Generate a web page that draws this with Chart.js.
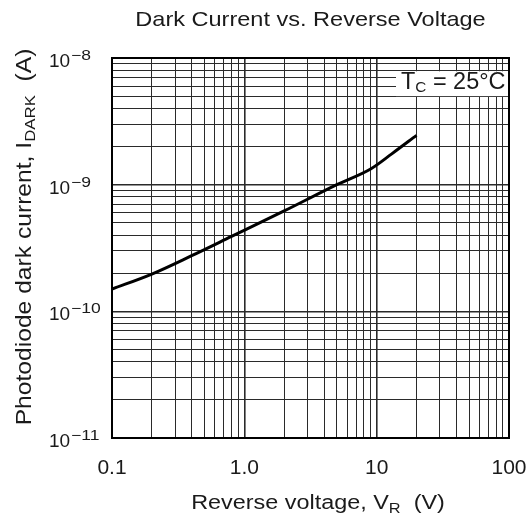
<!DOCTYPE html>
<html>
<head>
<meta charset="utf-8">
<script src="https://cdn.jsdelivr.net/npm/chart.js@4"></script>
<style>
  body { margin: 0; background: #fff; }
  #wrap { width: 531px; height: 524px; }
</style>
</head>
<body>
<div id="wrap"><canvas id="darkChart" width="531" height="524"></canvas></div>
<script>
const voltage = [0.1, 0.2, 0.4, 0.8, 2, 5, 9, 13, 20];                 // V_R (V)
const darkCurrent = [1.5e-10, 1.97e-10, 2.75e-10, 3.9e-10, 6.2e-10, 1.0e-9, 1.33e-9, 1.75e-9, 2.45e-9]; // A

const xDecades = [0.1, 1, 10, 100];
const xTickLabels = ["0.1", "1.0", "10", "100"];
const yDecades = [1e-11, 1e-10, 1e-9, 1e-8];
const yExponents = ["\u221211", "\u221210", "\u22129", "\u22128"];

const FONT = '"Liberation Sans", Arial, Helvetica, sans-serif';
const INK = "#1a1a1a";

// 1..9 grid lines in every decade
function logGrid(decades) {
  const out = [];
  for (let i = 0; i < decades.length - 1; i++) {
    for (let m = 1; m < 10; m++) out.push({ value: decades[i] * m });
  }
  out.push({ value: decades[decades.length - 1] });
  return out;
}

// draw [text, size, dy] pieces; scanned lettering is a bit wider, so stretch along x
function drawParts(ctx, parts, x, y, stretch, align) {
  let total = 0;
  parts.forEach(([t, s]) => {
    ctx.font = s + "px " + FONT;
    total += ctx.measureText(t).width * stretch;
  });
  let cx = align === "center" ? x - total / 2 : x;
  ctx.save();
  ctx.textAlign = "left";
  ctx.textBaseline = "alphabetic";
  parts.forEach(([t, s, d]) => {
    ctx.font = s + "px " + FONT;
    ctx.save();
    ctx.translate(cx, y + (d || 0));
    ctx.scale(stretch, 1);
    ctx.fillText(t, 0, 0);
    ctx.restore();
    cx += ctx.measureText(t).width * stretch;
  });
  ctx.restore();
}

// ——— text, box and frame ———
const decorPlugin = {
  id: "decor",
  beforeDatasetsDraw(chart) {
    const { ctx, chartArea: a, scales } = chart;
    const y1 = scales.y.getPixelForValue(8e-9) + 1;
    const y2 = scales.y.getPixelForValue(5e-9);
    ctx.save();
    ctx.fillStyle = "#fff";
    ctx.fillRect(a.right - 113, y1, 112, y2 - y1);
    ctx.fillStyle = INK;
    drawParts(ctx, [["T", 23, 0], ["C", 15, 3], [" = 25\u00b0C", 23, 0]], a.right - 108, y2 - 7, 1.02);
    ctx.restore();
  },
  afterDraw(chart) {
    const { ctx, chartArea: a, scales } = chart;
    ctx.save();
    ctx.fillStyle = INK;
    ctx.strokeStyle = "#000";

    // frame
    ctx.lineWidth = 2;
    ctx.strokeRect(a.left, a.top, a.right - a.left, a.bottom - a.top);

    // title
    drawParts(ctx, [["Dark Current vs. Reverse Voltage", 21, 0]], (a.left + a.right) / 2, 26, 1.12, "center");

    // x tick labels
    xDecades.forEach((v, i) => {
      drawParts(ctx, [[xTickLabels[i], 20, 0]], scales.x.getPixelForValue(v), 474, 1.05, "center");
    });

    // y tick labels: 10 with superscript exponent
    yDecades.forEach((v, i) => {
      const py = scales.y.getPixelForValue(v);
      drawParts(ctx, [["10", 19, 0]], 49, py + 9, 1.0);
      drawParts(ctx, [[yExponents[i], 14, 0]], 71, py + 2, 1.25);
    });

    // x axis title with subscript
    drawParts(ctx, [["Reverse voltage, V", 20, 0], ["R", 14, 4], ["  (V)", 20, 0]], 318, 509, 1.17, "center");

    // y axis title rotated
    ctx.translate(31, 237);
    ctx.rotate(-Math.PI / 2);
    drawParts(ctx, [["Photodiode dark current, I", 22, 0], ["DARK", 15, 4], ["  (A)", 22, 0]], 0, 0, 1.12, "center");
    ctx.restore();
  },
};

const gridStyle = {
  color: "#2a2a2a",
  lineWidth: (c) => (c.tick && Math.abs(Math.log10(c.tick.value) % 1) < 1e-6 ? 1.6 : 1),
  drawTicks: false,
};

new Chart(document.getElementById("darkChart"), {
  type: "scatter",
  data: {
    datasets: [
      {
        data: voltage.map((v, i) => ({ x: v, y: darkCurrent[i] })),
        showLine: true,
        borderColor: "#000",
        borderWidth: 3,
        pointRadius: 0,
        cubicInterpolationMode: "monotone",
      },
    ],
  },
  options: {
    responsive: false,
    animation: false,
    layout: { padding: { left: 112, right: 22, top: 58, bottom: 86 } },
    plugins: { legend: { display: false }, tooltip: { enabled: false } },
    scales: {
      x: {
        type: "logarithmic",
        min: 0.1,
        max: 100,
        grid: gridStyle,
        border: { display: false },
        ticks: { display: false, autoSkip: false },
        afterBuildTicks: (s) => { s.ticks = logGrid(xDecades); },
      },
      y: {
        type: "logarithmic",
        min: 1e-11,
        max: 1e-8,
        grid: gridStyle,
        border: { display: false },
        ticks: { display: false, autoSkip: false },
        afterBuildTicks: (s) => { s.ticks = logGrid(yDecades); },
      },
    },
  },
  plugins: [decorPlugin],
});
</script>
</body>
</html>
